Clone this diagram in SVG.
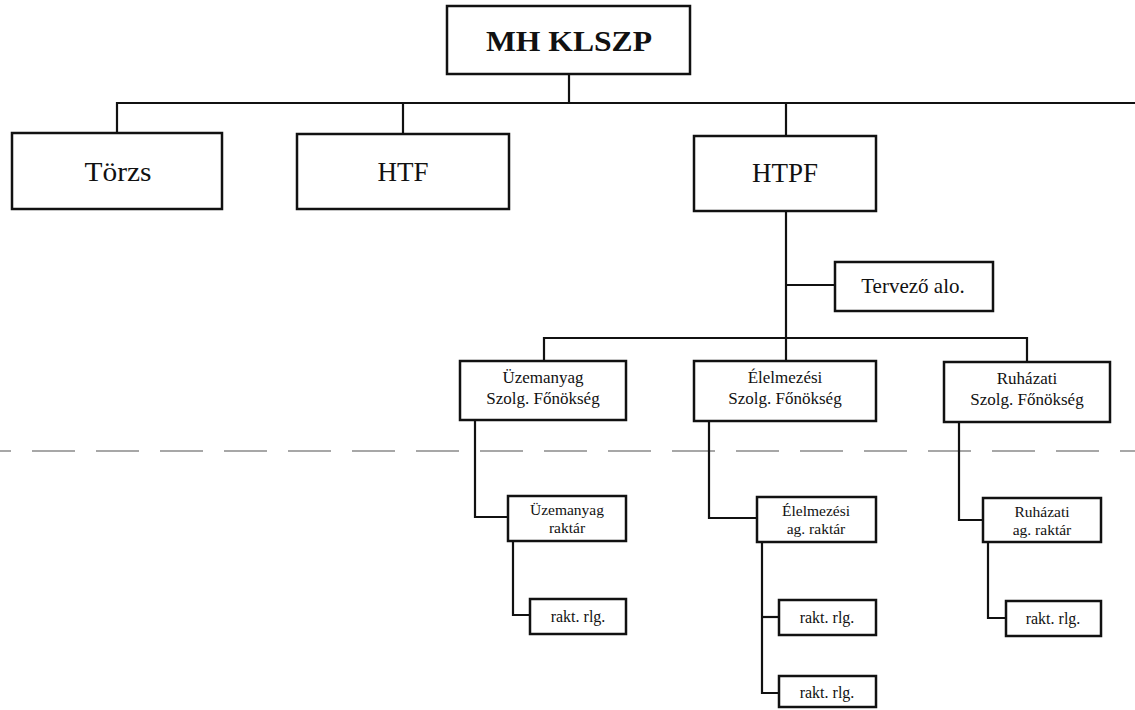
<svg xmlns="http://www.w3.org/2000/svg" width="1135" height="710" viewBox="0 0 1135 710">
<style>
  .box { fill: #ffffff; stroke: #111111; stroke-width: 2.5; }
  .ln { fill: none; stroke: #111111; stroke-width: 2.2; }
  .dash { fill: none; stroke: #8a8a8a; stroke-width: 1.4; stroke-dasharray: 43 21; stroke-dashoffset: 32; }
  text { font-family: "Liberation Serif", "Times New Roman", serif; fill: #111111; text-anchor: middle; }
  .t1 { font-size: 30px; font-weight: bold; }
  .t2 { font-size: 27px; }
  .t3 { font-size: 21px; }
  .t4 { font-size: 17px; }
  .t5 { font-size: 15.5px; }
  .t6 { font-size: 16px; }
</style>
<rect x="0" y="0" width="1135" height="710" fill="#ffffff"/>

<g id="separator">
  <line class="dash" x1="0" y1="451" x2="1135" y2="451"/>
</g>

<g id="connectors">
  <polyline class="ln" points="569,74 569,103"/>
  <polyline class="ln" points="117,133 117,103 1135,103"/>
  <polyline class="ln" points="403,103 403,134"/>
  <polyline class="ln" points="786,103 786,136"/>
  <polyline class="ln" points="786,211 786,338"/>
  <polyline class="ln" points="786,285 835,285"/>
  <polyline class="ln" points="544,361 544,338 1027,338 1027,362"/>
  <polyline class="ln" points="786,338 786,361"/>
  <polyline class="ln" points="475,420 475,517 508,517"/>
  <polyline class="ln" points="709,421 709,518 757,518"/>
  <polyline class="ln" points="959,422 959,520 983,520"/>
  <polyline class="ln" points="513,541 513,615 530,615"/>
  <polyline class="ln" points="762,542 762,693 779,693"/>
  <polyline class="ln" points="762,617 779,617"/>
  <polyline class="ln" points="988,542 988,618 1006,618"/>
</g>

<g id="n-mhklszp">
  <rect class="box" x="447" y="6" width="243" height="68"/>
  <text class="t1" x="569" y="51" textLength="166" lengthAdjust="spacingAndGlyphs">MH KLSZP</text>
</g>

<g id="n-torzs">
  <rect class="box" x="12" y="133" width="210" height="76"/>
  <text class="t2" x="118" y="181" textLength="67" lengthAdjust="spacingAndGlyphs">Törzs</text>
</g>

<g id="n-htf">
  <rect class="box" x="297" y="134" width="212" height="75"/>
  <text class="t2" x="403" y="181">HTF</text>
</g>

<g id="n-htpf">
  <rect class="box" x="694" y="136" width="182" height="75"/>
  <text class="t2" x="785" y="182">HTPF</text>
</g>

<g id="n-tervezo">
  <rect class="box" x="835" y="262" width="158" height="49"/>
  <text class="t3" x="913" y="293">Tervező alo.</text>
</g>

<g id="n-uzemanyag-szf">
  <rect class="box" x="460" y="361" width="166" height="59"/>
  <text class="t4" x="543" y="383">Üzemanyag</text>
  <text class="t4" x="543" y="404">Szolg. Főnökség</text>
</g>

<g id="n-elelmezesi-szf">
  <rect class="box" x="694" y="361" width="182" height="60"/>
  <text class="t4" x="785" y="383">Élelmezési</text>
  <text class="t4" x="785" y="404">Szolg. Főnökség</text>
</g>

<g id="n-ruhazati-szf">
  <rect class="box" x="944" y="362" width="166" height="60"/>
  <text class="t4" x="1027" y="384">Ruházati</text>
  <text class="t4" x="1027" y="405">Szolg. Főnökség</text>
</g>

<g id="n-uzemanyag-raktar">
  <rect class="box" x="508" y="496" width="118" height="45"/>
  <text class="t5" x="567" y="515">Üzemanyag</text>
  <text class="t5" x="567" y="533">raktár</text>
</g>

<g id="n-elelmezesi-raktar">
  <rect class="box" x="757" y="497" width="119" height="45"/>
  <text class="t5" x="816" y="516">Élelmezési</text>
  <text class="t5" x="816" y="534">ag. raktár</text>
</g>

<g id="n-ruhazati-raktar">
  <rect class="box" x="983" y="498" width="118" height="44"/>
  <text class="t5" x="1042" y="517">Ruházati</text>
  <text class="t5" x="1042" y="535">ag. raktár</text>
</g>

<g id="n-rlg-1">
  <rect class="box" x="530" y="599" width="96" height="35"/>
  <text class="t6" x="578" y="622">rakt. rlg.</text>
</g>

<g id="n-rlg-2">
  <rect class="box" x="779" y="600" width="97" height="35"/>
  <text class="t6" x="827" y="623">rakt. rlg.</text>
</g>

<g id="n-rlg-3">
  <rect class="box" x="779" y="676" width="97" height="31"/>
  <text class="t6" x="827" y="698">rakt. rlg.</text>
</g>

<g id="n-rlg-4">
  <rect class="box" x="1006" y="601" width="95" height="35"/>
  <text class="t6" x="1053" y="624">rakt. rlg.</text>
</g>
</svg>
